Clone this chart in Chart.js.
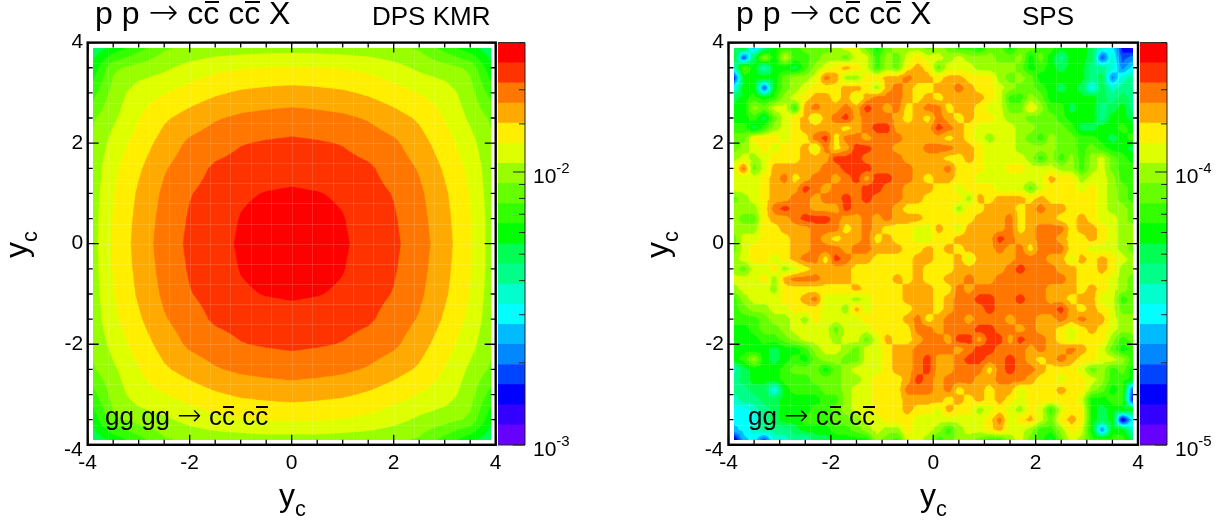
<!DOCTYPE html>
<html>
<head>
<meta charset="utf-8">
<title>c cbar c cbar rapidity correlations</title>
<script src="https://cdn.jsdelivr.net/npm/chart.js@4"></script>
<style>
  html, body { margin: 0; padding: 0; background: #fff; }
  #page { position: relative; width: 1222px; height: 525px; overflow: hidden; font-family: "Liberation Sans", Arial, sans-serif; color: #000; }
  canvas { position: absolute; top: 0; }
  .txt { position: absolute; white-space: pre; line-height: 1; }
  .txt sub { font-size: 0.68em; vertical-align: baseline; position: relative; top: 0.47em; }
  .bar { position: relative; }
  .bar::after { content: ''; position: absolute; left: 8%; right: 4%; top: 0.2em; height: 0.06em; background: #000; }
  .arrow { font-family: "DejaVu Sans"; font-weight: 200; font-size: 1.12em; line-height: 0; }
  .rot { transform: rotate(-90deg); transform-origin: 0 0; }
</style>
</head>
<body>
<div id="page">
  <canvas id="dpsMap" width="512" height="525" style="left:0"></canvas>
  <canvas id="dpsBar" width="110" height="525" style="left:498px"></canvas>
  <canvas id="spsMap" width="514" height="525" style="left:640px"></canvas>
  <canvas id="spsBar" width="82" height="525" style="left:1140px"></canvas>

  <div class="txt" style="left:95px;top:-3px;font-size:32px">p p <span class="arrow">→</span> c<span class="bar">c</span> c<span class="bar">c</span> X</div>
  <div class="txt" style="left:372px;top:3px;font-size:26px">DPS KMR</div>
  <div class="txt" style="left:105px;top:403px;font-size:26px">gg gg <span class="arrow">→</span> c<span class="bar">c</span> c<span class="bar">c</span></div>
  <div class="txt" style="left:279px;top:479px;font-size:32px">y<sub>c</sub></div>
  <div class="txt rot" style="left:0px;top:258px;font-size:32px">y<sub>c</sub></div>

  <div class="txt" style="left:736px;top:-3px;font-size:32px">p p <span class="arrow">→</span> c<span class="bar">c</span> c<span class="bar">c</span> X</div>
  <div class="txt" style="left:1022px;top:3px;font-size:26px">SPS</div>
  <div class="txt" style="left:748px;top:403px;font-size:26px">gg <span class="arrow">→</span> c<span class="bar">c</span> c<span class="bar">c</span></div>
  <div class="txt" style="left:920px;top:479px;font-size:32px">y<sub>c</sub></div>
  <div class="txt rot" style="left:641px;top:258px;font-size:32px">y<sub>c</sub></div>
</div>

<script>
// Colour bands, lowest to highest (ROOT rainbow palette, 20 contours)
const bandColors = [
  '#6600ff', '#3300ff', '#0000ff', '#0044ff', '#0088ff', '#00bbff', '#00ffff', '#00ffcc', '#00ff88', '#00ff55',
  '#00ff00', '#33ff00', '#66ff00', '#99ff00', '#ddff00', '#ffee00', '#ffaa00', '#ff7700', '#ff3300', '#ff0000'
];

// Band edges of the two colour scales
const dpsEdges = [0.001, 0.001185, 0.001404, 0.001664, 0.001971, 0.002336, 0.002768, 0.003279, 0.003886, 0.004604, 0.005456,
  0.006465, 0.00766, 0.009077, 0.010755, 0.012743, 0.0151, 0.01789, 0.0212, 0.02512, 0.02977];
const spsEdges = [0.00001, 0.00001185, 0.00001404, 0.00001664, 0.00001971, 0.00002336, 0.00002768, 0.00003279, 0.00003886, 0.00004604, 0.00005456,
  0.00006465, 0.0000766, 0.00009077, 0.00010755, 0.00012743, 0.000151, 0.0001789, 0.000212, 0.0002512, 0.0002977];

// DPS map: position on the colour scale (band number + fraction)
const dpsNodes = [-3.9, -3.5, -3, -2.5, -2, -1.5, -1, -0.5, 0, 0.5, 1, 1.5, 2, 2.5, 3, 3.5, 3.9];
const dpsLevels = [
  [9.3, 10.3, 11.6, 12.85, 13.2, 13.4, 13.5, 13.6, 13.6, 13.6, 13.5, 13.4, 13.2, 12.85, 11.6, 10.3, 9.3],
  [10.3, 12.8, 13.4, 13.8, 14.35, 14.75, 14.95, 15.05, 15.1, 15.05, 14.95, 14.75, 14.35, 13.8, 13.4, 12.8, 10.3],
  [11.6, 13.4, 14.55, 14.95, 15.45, 15.85, 16.15, 16.3, 16.4, 16.3, 16.15, 15.85, 15.45, 14.95, 14.55, 13.4, 11.6],
  [12.85, 13.8, 14.95, 15.85, 16.4, 16.9, 17.2, 17.35, 17.45, 17.35, 17.2, 16.9, 16.4, 15.85, 14.95, 13.8, 12.85],
  [13.2, 14.35, 15.45, 16.4, 17.2, 17.6, 17.95, 18.1, 18.2, 18.1, 17.95, 17.6, 17.2, 16.4, 15.45, 14.35, 13.2],
  [13.4, 14.75, 15.85, 16.9, 17.6, 18.15, 18.35, 18.5, 18.6, 18.5, 18.35, 18.15, 17.6, 16.9, 15.85, 14.75, 13.4],
  [13.5, 14.95, 16.15, 17.2, 17.95, 18.35, 18.85, 19.05, 19.15, 19.05, 18.85, 18.35, 17.95, 17.2, 16.15, 14.95, 13.5],
  [13.6, 15.05, 16.3, 17.35, 18.1, 18.5, 19.05, 19.35, 19.5, 19.35, 19.05, 18.5, 18.1, 17.35, 16.3, 15.05, 13.6],
  [13.6, 15.1, 16.4, 17.45, 18.2, 18.6, 19.15, 19.5, 19.6, 19.5, 19.15, 18.6, 18.2, 17.45, 16.4, 15.1, 13.6],
  [13.6, 15.05, 16.3, 17.35, 18.1, 18.5, 19.05, 19.35, 19.5, 19.35, 19.05, 18.5, 18.1, 17.35, 16.3, 15.05, 13.6],
  [13.5, 14.95, 16.15, 17.2, 17.95, 18.35, 18.85, 19.05, 19.15, 19.05, 18.85, 18.35, 17.95, 17.2, 16.15, 14.95, 13.5],
  [13.4, 14.75, 15.85, 16.9, 17.6, 18.15, 18.35, 18.5, 18.6, 18.5, 18.35, 18.15, 17.6, 16.9, 15.85, 14.75, 13.4],
  [13.2, 14.35, 15.45, 16.4, 17.2, 17.6, 17.95, 18.1, 18.2, 18.1, 17.95, 17.6, 17.2, 16.4, 15.45, 14.35, 13.2],
  [12.85, 13.8, 14.95, 15.85, 16.4, 16.9, 17.2, 17.35, 17.45, 17.35, 17.2, 16.9, 16.4, 15.85, 14.95, 13.8, 12.85],
  [11.6, 13.4, 14.55, 14.95, 15.45, 15.85, 16.15, 16.3, 16.4, 16.3, 16.15, 15.85, 15.45, 14.95, 14.55, 13.4, 11.6],
  [10.3, 12.8, 13.4, 13.8, 14.35, 14.75, 14.95, 15.05, 15.1, 15.05, 14.95, 14.75, 14.35, 13.8, 13.4, 12.8, 10.3],
  [9.3, 10.3, 11.6, 12.85, 13.2, 13.4, 13.5, 13.6, 13.6, 13.6, 13.5, 13.4, 13.2, 12.85, 11.6, 10.3, 9.3]
];

// SPS map: band number of each 0.2 wide bin, top row (y = 3.9) first
const spsNodes = [-3.9, -3.7, -3.5, -3.3, -3.1, -2.9, -2.7, -2.5, -2.3, -2.1, -1.9, -1.7, -1.5, -1.3, -1.1, -0.9, -0.7, -0.5, -0.3, -0.1,
  0.1, 0.3, 0.5, 0.7, 0.9, 1.1, 1.3, 1.5, 1.7, 1.9, 2.1, 2.3, 2.5, 2.7, 2.9, 3.1, 3.3, 3.5, 3.7, 3.9];
const spsBands = [
  [9,10,5,8,10,11,11,12,12,12,13,14,14,12,10,12,13,13,13,12, 13,12,11,11,10,12,12,10,12,12,11,11,10,10,10,9,7,6,2,1],
  [10,3,9,13,10,14,11,11,12,13,13,12,14,14,11,13,12,14,15,14, 14,13,14,13,13,13,12,12,13,10,12,10,8,10,10,9,3,7,3,4],
  [7,12,10,7,10,10,9,11,13,14,15,16,15,14,11,13,12,15,16,15, 12,14,14,14,13,13,13,13,12,10,11,10,9,10,10,8,8,7,4,6],
  [2,10,10,10,10,12,13,13,14,17,16,13,13,15,15,16,16,17,16,16, 15,16,16,15,15,15,13,12,13,12,10,10,10,10,10,8,9,4,7,8],
  [6,10,10,3,10,12,13,14,15,15,15,16,16,15,13,16,17,16,15,15, 16,16,17,16,15,15,14,13,12,12,11,10,9,10,9,6,9,7,8,8],
  [9,10,11,10,11,13,14,15,16,16,15,16,14,16,17,17,17,16,15,16, 15,16,16,16,16,15,14,11,11,13,12,10,10,10,10,10,9,8,9,8],
  [10,10,13,12,14,14,11,16,17,16,16,17,16,18,17,16,17,15,16,17, 17,15,16,16,15,14,14,12,12,15,13,11,11,9,10,10,8,9,10,8],
  [10,10,11,9,12,14,15,16,14,16,17,18,16,17,17,17,16,15,16,15, 17,16,15,16,15,15,14,13,13,12,12,12,11,10,10,10,8,10,10,9],
  [11,11,9,11,13,14,15,16,16,16,16,15,16,17,18,18,16,16,16,16, 18,17,16,15,14,14,14,14,13,13,12,12,12,11,9,9,10,10,11,10],
  [12,12,15,15,15,14,15,15,17,18,15,17,17,16,17,17,17,16,16,16, 16,15,16,15,14,13,14,14,13,12,11,13,12,12,11,11,10,9,10,11],
  [12,13,14,15,14,15,15,16,14,17,15,16,18,18,17,17,16,16,16,17, 17,17,16,16,15,14,14,14,13,13,13,13,12,12,11,12,11,10,10,9],
  [13,14,13,14,15,15,15,16,16,16,18,18,18,17,17,17,17,16,16,16, 16,15,15,16,15,14,14,14,14,13,11,13,11,13,11,13,14,12,11,10],
  [14,17,12,14,16,16,16,16,16,17,17,18,18,18,17,17,17,17,16,16, 16,17,15,15,15,14,14,15,15,14,14,14,13,13,11,13,14,12,11,11],
  [14,14,14,15,16,17,15,16,17,17,16,17,18,16,18,18,17,17,16,15, 16,16,15,15,14,14,14,14,14,14,14,16,15,15,13,14,14,13,11,11],
  [14,14,14,15,16,16,16,18,17,16,17,17,17,18,18,17,17,16,16,16, 15,15,14,15,15,15,14,14,14,12,14,15,15,15,14,15,14,13,12,11],
  [12,13,14,15,16,16,17,17,16,17,17,18,17,18,17,17,17,16,16,15, 15,15,15,13,16,15,16,16,16,15,16,15,15,15,15,15,14,13,12,11],
  [13,13,13,15,17,18,17,17,16,16,16,18,17,17,17,17,16,15,15,15, 15,15,13,15,15,16,16,16,15,16,17,16,16,15,15,15,14,13,13,12],
  [13,12,12,15,16,16,17,18,18,18,17,16,16,17,16,17,16,16,16,15, 15,15,15,15,16,16,16,17,15,16,16,16,15,15,16,15,14,14,13,12],
  [13,13,13,15,15,16,16,16,17,17,17,15,16,17,16,15,15,15,14,14, 16,15,14,16,16,16,16,17,15,16,17,17,17,15,16,16,15,14,13,13],
  [12,14,14,15,15,15,16,16,17,16,15,16,16,17,15,16,15,15,14,14, 15,15,16,16,16,16,18,17,16,16,17,17,16,15,15,16,15,14,13,13],
  [12,14,15,15,15,15,16,16,17,17,17,16,17,17,16,16,16,15,15,16, 15,16,15,16,16,16,17,16,17,15,17,17,17,15,15,14,14,14,13,12],
  [13,14,15,15,14,15,16,17,17,15,18,17,16,16,15,15,15,15,16,16, 15,15,16,14,16,16,16,16,17,17,17,16,16,14,16,15,16,15,14,13],
  [13,12,14,14,15,13,14,15,16,16,16,16,15,15,15,15,15,15,16,15, 15,15,16,16,16,16,16,17,18,17,17,17,16,16,15,15,16,15,13,13],
  [14,14,14,15,13,16,17,17,17,16,16,16,15,15,15,15,16,15,16,15, 15,16,16,17,16,16,17,17,17,17,17,17,17,16,15,15,15,14,13,12],
  [13,14,14,14,13,15,15,15,15,15,15,15,16,15,15,15,15,16,16,16, 15,15,17,16,17,17,17,17,17,17,17,16,16,16,15,16,15,14,13,12],
  [11,13,14,14,14,15,15,16,17,14,14,14,13,14,15,15,15,16,16,16, 15,16,17,17,18,18,17,17,18,17,17,16,16,15,16,16,14,14,11,12],
  [11,12,13,13,14,14,15,15,15,14,14,13,16,14,15,15,15,15,16,16, 15,16,17,17,17,18,17,17,17,17,17,17,18,16,15,16,15,14,12,12],
  [11,11,11,12,13,13,14,13,15,14,14,14,14,15,15,15,15,16,17,15, 16,17,17,16,17,17,17,16,17,17,16,16,17,16,17,16,16,14,13,13],
  [10,10,11,12,12,13,14,14,14,14,12,14,14,14,15,15,15,15,17,17, 16,17,17,17,18,18,17,17,16,17,16,16,15,14,15,16,15,14,13,13],
  [10,10,10,11,11,12,13,14,14,14,13,14,14,12,14,16,15,15,16,17, 17,16,18,18,16,18,18,16,18,17,17,16,15,14,15,15,15,13,11,12],
  [10,10,10,10,9,10,10,11,13,14,14,13,12,14,14,15,16,16,17,17, 17,17,16,17,18,18,17,17,17,16,17,16,16,17,16,15,14,12,10,11],
  [10,11,13,10,9,10,11,10,12,13,13,12,12,14,14,15,16,16,17,18, 16,16,17,18,18,17,17,18,17,16,15,16,17,16,15,15,14,14,13,11],
  [7,9,10,10,10,11,12,12,12,10,12,13,14,14,14,15,16,16,17,18, 16,16,17,17,17,15,17,18,17,17,16,15,15,15,14,12,13,11,12,10],
  [8,9,10,10,10,11,11,11,12,12,12,13,13,14,15,15,15,16,18,17, 16,17,17,17,16,16,17,17,17,16,15,15,14,15,15,14,13,11,11,10],
  [8,8,9,9,6,10,11,11,11,12,12,13,14,14,15,15,15,17,17,17, 16,17,15,16,16,15,16,16,14,15,15,15,16,15,15,13,12,10,11,3],
  [7,8,8,9,9,10,10,10,10,11,11,13,14,14,15,15,15,16,16,16, 16,15,16,15,16,15,16,15,14,15,15,15,15,15,14,10,10,11,11,2],
  [6,6,7,8,9,10,10,10,11,11,12,13,14,14,15,15,15,16,15,15, 14,16,15,15,13,14,15,14,13,15,14,11,14,15,15,10,9,10,10,10],
  [6,6,6,8,9,10,10,11,11,11,12,12,13,14,14,15,15,15,14,14, 14,14,14,14,14,15,17,14,15,16,14,12,15,16,15,10,9,10,1,6],
  [5,6,7,8,8,8,9,10,10,10,11,11,12,13,14,13,13,15,14,14, 13,11,13,14,14,15,16,14,14,13,11,11,13,15,14,10,4,10,10,7],
  [1,5,6,3,7,7,8,7,9,9,10,10,10,10,13,12,11,14,14,13, 11,12,13,13,12,11,11,13,14,12,11,9,12,14,13,11,11,11,11,9]
];

// Axis range and tick labels shared by both maps
const axisMin = -4;
const axisMax = 4;
const axisStep = 0.5;
const labelledTicks = [-4, -2, 0, 2, 4];

const rgbBands = bandColors.map(c => [parseInt(c.slice(1, 3), 16), parseInt(c.slice(3, 5), 16), parseInt(c.slice(5, 7), 16)]);
const black = '#000';
const tickFont = { family: '"Liberation Sans"', size: 21 };

// Finds the grid segment holding v, returns its index and the fraction along it
function locate(nodes, v) {
  let i = 0;
  while (i < nodes.length - 2 && v > nodes[i + 1]) i++;
  return [i, (v - nodes[i]) / (nodes[i + 1] - nodes[i])];
}

// Smooth shading between four corners, used for the DPS map
function bilinear(a, b, c, d, fx, fy) {
  return (a * (1 - fx) + b * fx) * (1 - fy) + (c * (1 - fx) + d * fx) * fy;
}

// Linear inside the four triangles of a cell, which gives the straight edged diamonds of the SPS map
function triangles(a, b, c, d, fx, fy) {
  const mid = (a + b + c + d) / 4;
  const u = fx - 0.5, v = fy - 0.5;
  if (Math.abs(u) > Math.abs(v)) {
    const e = u > 0 ? (b + d) / 2 : (a + c) / 2;
    const side = u > 0 ? (v < 0 ? b : d) : (v < 0 ? a : c);
    return mid + (e - mid) * Math.abs(u) * 2 + (side - e) * Math.abs(v) * 2;
  }
  const e = v > 0 ? (c + d) / 2 : (a + b) / 2;
  const side = v > 0 ? (u < 0 ? c : d) : (u < 0 ? a : b);
  return mid + (e - mid) * Math.abs(v) * 2 + (side - e) * Math.abs(u) * 2;
}

// Paints the filled contours through the chart's own scales
const contourPlugin = {
  id: 'contourFill',
  beforeDatasetsDraw(chart) {
    const { x, y } = chart.scales;
    const ds = chart.data.datasets[0];
    const nodes = ds.nodes, levels = ds.levels;
    const x0 = x.getPixelForValue(nodes[0]), x1 = x.getPixelForValue(nodes[nodes.length - 1]);
    const y0 = y.getPixelForValue(nodes[nodes.length - 1]), y1 = y.getPixelForValue(nodes[0]);
    const ss = 3; // supersampling so the band edges come out soft
    const w = Math.round((x1 - x0) * ss), h = Math.round((y1 - y0) * ss);
    const off = document.createElement('canvas');
    off.width = w; off.height = h;
    const octx = off.getContext('2d');
    const img = octx.createImageData(w, h);
    for (let py = 0; py < h; py++) {
      const vy = y.getValueForPixel(y0 + (py + 0.5) / ss);
      const [j, fy] = locate(nodes, -vy); // rows run from top to bottom
      for (let px = 0; px < w; px++) {
        const vx = x.getValueForPixel(x0 + (px + 0.5) / ss);
        const [i, fx] = locate(nodes, vx);
        const lev = ds.shade(levels[j][i], levels[j][i + 1], levels[j + 1][i], levels[j + 1][i + 1], fx, fy);
        const rgb = rgbBands[Math.max(0, Math.min(19, Math.floor(lev + ds.bandShift)))];
        const k = (py * w + px) * 4;
        img.data[k] = rgb[0]; img.data[k + 1] = rgb[1]; img.data[k + 2] = rgb[2]; img.data[k + 3] = 255;
      }
    }
    octx.putImageData(img, 0, 0);
    const ctx = chart.ctx;
    ctx.imageSmoothingEnabled = true;
    ctx.imageSmoothingQuality = 'high';
    ctx.drawImage(off, x0, y0, x1 - x0, y1 - y0);
    // faint light seams left over between the polygons in the original
    ctx.save();
    ctx.strokeStyle = 'rgba(255,255,255,0.14)';
    ctx.lineWidth = 1;
    for (let v = -3.6; v < 3.7; v += 0.4) {
      const px = Math.round(x.getPixelForValue(v)) + 0.5, py = Math.round(y.getPixelForValue(v)) + 0.5;
      ctx.beginPath();
      ctx.moveTo(px, y0); ctx.lineTo(px, y1);
      ctx.moveTo(x0, py); ctx.lineTo(x1, py);
      ctx.stroke();
    }
    ctx.restore();
  }
};

// Frame and inward ticks on all four sides, ROOT style
const framePlugin = {
  id: 'frameTicks',
  afterDatasetsDraw(chart) {
    const { x, y } = chart.scales;
    const { left, right, top, bottom } = chart.chartArea;
    const ctx = chart.ctx;
    ctx.save();
    ctx.strokeStyle = black;
    ctx.lineWidth = 1.3;
    x.ticks.forEach(t => {
      const px = x.getPixelForValue(t.value);
      const len = t.value % 2 === 0 ? 10 : 5;
      ctx.beginPath();
      ctx.moveTo(px, bottom); ctx.lineTo(px, bottom - len);
      ctx.moveTo(px, top); ctx.lineTo(px, top + len);
      ctx.stroke();
    });
    y.ticks.forEach(t => {
      const py = y.getPixelForValue(t.value);
      const len = t.value % 2 === 0 ? 11 : 5;
      ctx.beginPath();
      ctx.moveTo(left, py); ctx.lineTo(left + len, py);
      ctx.moveTo(right, py); ctx.lineTo(right - len, py);
      ctx.stroke();
    });
    ctx.lineWidth = 2.4;
    ctx.strokeRect(left, top, right - left, bottom - top);
    // the -4 label on y sits lower than the tick
    ctx.fillStyle = black;
    ctx.font = '21px "Liberation Sans"';
    ctx.textAlign = 'right';
    ctx.textBaseline = 'middle';
    ctx.fillText('-4', left - 5, bottom + 5);
    ctx.restore();
  }
};

// Draws one contour map
function drawMap(id, nodes, levels, bandShift, shade, leftGap, rightGap) {
  const points = [];
  levels.forEach((row, j) => row.forEach((v, i) => points.push({ x: nodes[i], y: nodes[nodes.length - 1 - j], v: v })));
  return new Chart(document.getElementById(id), {
    type: 'scatter',
    data: { datasets: [{ data: points, nodes: nodes, levels: levels, bandShift: bandShift, shade: shade, pointRadius: 0, showLine: false }] },
    options: {
      responsive: false,
      animation: false,
      layout: { autoPadding: false, padding: { top: 42.6, right: rightGap, left: 0, bottom: 0 } },
      plugins: { legend: { display: false }, tooltip: { enabled: false } },
      scales: {
        x: {
          type: 'linear', min: axisMin, max: axisMax, border: { display: false },
          grid: { display: false },
          afterFit: s => { s.height = 525 - 444.8; s.paddingLeft = 0; s.paddingRight = 0; },
          ticks: {
            stepSize: axisStep, autoSkip: false, maxRotation: 0, padding: -2, color: black,
            font: tickFont,
            callback: v => labelledTicks.includes(v) ? String(v) : ''
          }
        },
        y: {
          type: 'linear', min: axisMin, max: axisMax, border: { display: false },
          grid: { display: false },
          afterFit: s => { s.width = leftGap; s.paddingTop = 0; s.paddingBottom = 0; },
          ticks: {
            stepSize: axisStep, autoSkip: false, padding: -3.5, color: black,
            font: tickFont,
            callback: v => (labelledTicks.includes(v) && v !== axisMin) ? String(v) : ''
          }
        }
      }
    },
    plugins: [contourPlugin, framePlugin]
  });
}

// Colour bar: a bar per band on a log axis, inward ticks and 10^n labels
const colorbarPlugin = {
  id: 'colorbarTicks',
  afterDatasetsDraw(chart) {
    const y = chart.scales.y;
    const { left, right, top, bottom } = chart.chartArea;
    const ctx = chart.ctx;
    ctx.save();
    ctx.strokeStyle = '#222';
    ctx.lineWidth = 1;
    ctx.beginPath();
    ctx.moveTo(left, top); ctx.lineTo(right, top); ctx.lineTo(right, bottom); ctx.lineTo(left, bottom);
    ctx.stroke();
    ctx.textAlign = 'left';
    ctx.textBaseline = 'alphabetic';
    ctx.fillStyle = black;
    y.ticks.forEach(t => {
      const exp = Math.log10(t.value);
      const major = Math.abs(exp - Math.round(exp)) < 1e-6;
      const py = y.getPixelForValue(t.value);
      ctx.beginPath();
      ctx.moveTo(right, py); ctx.lineTo(right - (major ? 12 : 6), py);
      ctx.stroke();
      if (major) {
        ctx.font = '21px "Liberation Sans"';
        ctx.fillText('10', right + 8, py + 11);
        const w = ctx.measureText('10').width;
        ctx.font = '15px "Liberation Sans"';
        ctx.fillText(String(Math.round(exp)), right + 8 + w, py + 1);
      }
    });
    ctx.restore();
  }
};

function drawColorbar(id, edges) {
  const datasets = bandColors.map((c, k) => ({
    data: [[edges[k], edges[k + 1]]], backgroundColor: c, borderWidth: 0,
    barPercentage: 1, categoryPercentage: 1, grouped: false
  }));
  return new Chart(document.getElementById(id), {
    type: 'bar',
    data: { labels: [''], datasets: datasets },
    options: {
      responsive: false,
      animation: false,
      layout: { autoPadding: false, padding: { top: 42.6, right: 0, left: 0, bottom: 525 - 445 } },
      plugins: { legend: { display: false }, tooltip: { enabled: false } },
      scales: {
        x: { display: false, grid: { display: false } },
        y: {
          type: 'logarithmic', position: 'right', min: edges[0], max: edges[edges.length - 1],
          border: { display: false }, grid: { display: false },
          afterFit: s => { s.width = chartBarRightGap(id); },
          ticks: { display: false }
        }
      }
    },
    plugins: [colorbarPlugin]
  });
}

// The bar itself is 27px wide, what remains of the canvas holds the labels
function chartBarRightGap(id) {
  return document.getElementById(id).width - 27;
}

drawMap('dpsMap', dpsNodes, dpsLevels, 0, bilinear, 87.7, 512 - 495.7);
drawColorbar('dpsBar', dpsEdges);
drawMap('spsMap', spsNodes, spsBands, 0.5, triangles, 88.5, 514 - 1138 + 640);
drawColorbar('spsBar', spsEdges);
</script>
</body>
</html>
